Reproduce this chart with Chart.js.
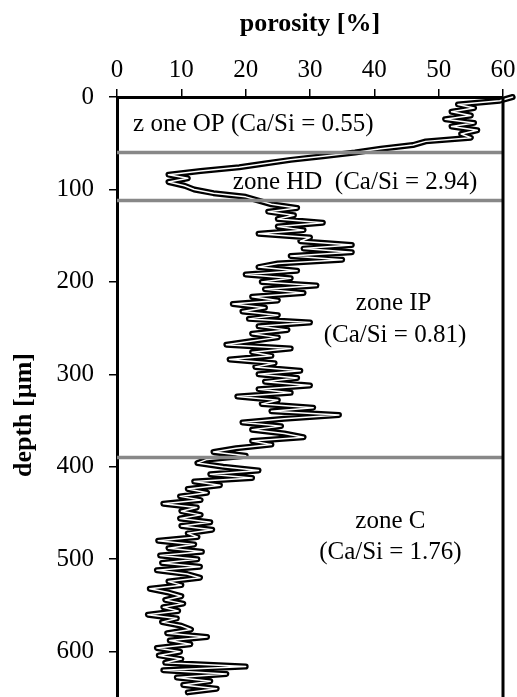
<!DOCTYPE html>
<html>
<head>
<meta charset="utf-8">
<script src="https://cdn.jsdelivr.net/npm/chart.js@4.4.1/dist/chart.umd.min.js"></script>
<style>
  html, body { margin: 0; padding: 0; background: #fff; }
</style>
</head>
<body>
<canvas id="chartPorosidade" width="517" height="697"></canvas>
<script>
// depth [um] and porosity [%] read from the profile
const depths = [0, 4, 8, 12, 16, 20, 24, 28, 32, 36, 40, 44, 48, 52, 56, 60, 64, 68, 72, 76,
    80, 84, 88, 92, 96, 100, 104, 108, 112, 116, 120, 124, 128, 132, 136, 140, 144, 148, 152, 156,
    160, 164, 168, 172, 176, 180, 184, 188, 192, 196, 200, 204, 208, 212, 216, 220, 224, 228, 232, 236,
    240, 244, 248, 252, 256, 260, 264, 268, 272, 276, 280, 284, 288, 292, 296, 300, 304, 308, 312, 316,
    320, 324, 328, 332, 336, 340, 344, 348, 352, 356, 360, 364, 368, 372, 376, 380, 384, 388, 392, 396,
    400, 404, 408, 412, 416, 420, 424, 428, 432, 436, 440, 444, 448, 452, 456, 460, 464, 468, 472, 476,
    480, 484, 488, 492, 496, 500, 504, 508, 512, 516, 520, 524, 528, 532, 536, 540, 544, 548, 552, 556,
    560, 564, 568, 572, 576, 580, 584, 588, 592, 596, 600, 604, 608, 612, 616, 620, 624, 628, 632, 636,
    640, 644];
const porosity = [61.5, 59.5, 53, 55.5, 52, 55, 51, 55.5, 52, 56, 53.5, 55, 48, 46, 41, 37, 32, 27, 23, 19,
    13, 8, 11, 8, 10.5, 12, 15, 20, 22, 24, 28, 23.5, 27.5, 25, 32, 25, 29, 22, 30, 28.5,
    36.5, 29, 36.5, 27, 35, 25, 22, 28, 20, 27, 22.5, 31, 23, 29, 21, 25, 18, 23, 19.5, 25,
    20.5, 30, 22, 26.5, 21, 25, 21, 17, 27, 21, 24, 17.5, 24.5, 21.5, 28.5, 22, 28, 23, 30, 22,
    27, 18.7, 25, 22.5, 30.5, 24, 34.5, 26, 19.5, 25.5, 21, 26, 29, 21, 24, 18.5, 15, 20, 14, 12.5,
    16.5, 22, 14.5, 21, 12, 16, 11, 14, 9.8, 13, 7.2, 12.4, 10, 13, 9.8, 14.5, 10, 14.8, 11, 12.5,
    6.4, 12, 8, 13.2, 6.7, 12.5, 7, 12.9, 6.2, 10.9, 12.9, 8, 10, 5.1, 8, 10, 7.5, 10.3, 7.2, 9.5,
    4.8, 9.3, 7, 10, 11.5, 7.8, 14, 8.2, 11.4, 6.2, 9.8, 6.5, 10, 7.5, 20, 7.2, 17, 9.3, 14.5, 10.3,
    15.5, 11];

const zoneBounds = [60, 112, 390];
const zoneTexts = ['z one OP (Ca/Si = 0.55)', 'zone HD  (Ca/Si = 2.94)', 'zone IP', '(Ca/Si = 0.81)', 'zone C', '(Ca/Si = 1.76)'];
const zoneTextX = [2.5, 18, 43, 43.2, 42.5, 42.5];
const zoneTextY = [30, 92, 223, 258, 459, 493];
const zoneTextAlign = ['left', 'left', 'center', 'center', 'center', 'center'];

const xTicks = [0, 10, 20, 30, 40, 50, 60];
const yTicks = [0, 100, 200, 300, 400, 500, 600];

const serif = '"Liberation Serif", "Times New Roman", serif';

const perfil = depths.map((d, i) => ({ x: porosity[i], y: d }));

const zoneLines = zoneBounds.map(b => ({
    data: [{ x: 0, y: b }, { x: 60, y: b }],
    showLine: true,
    borderColor: '#888888',
    borderWidth: 3.5,
    pointRadius: 0,
    order: -1
}));

const zoneLabels = {
    id: 'zoneLabels',
    afterDatasetsDraw(chart) {
        const { ctx, chartArea, scales } = chart;
        ctx.save();
        // right frame line
        ctx.strokeStyle = '#000';
        ctx.lineWidth = 3;
        ctx.beginPath();
        ctx.moveTo(chartArea.right, chartArea.top);
        ctx.lineTo(chartArea.right, chartArea.bottom);
        ctx.stroke();

        ctx.font = '25px ' + serif;
        ctx.fillStyle = '#000';
        ctx.textBaseline = 'middle';
        for (let i = 0; i < zoneTexts.length; i++) {
            ctx.textAlign = zoneTextAlign[i];
            ctx.fillText(zoneTexts[i], scales.x.getPixelForValue(zoneTextX[i]), scales.y.getPixelForValue(zoneTextY[i]));
        }

        // y axis title
        ctx.translate(24, 415);
        ctx.rotate(-Math.PI / 2);
        ctx.textAlign = 'center';
        ctx.font = 'bold 26px ' + serif;
        ctx.fillText('depth [µm]', 0, 0);
        ctx.restore();
    }
};

const canvas = document.getElementById('chartPorosidade');
new Chart(canvas, {
    type: 'scatter',
    data: {
        datasets: [
            {
                data: perfil,
                showLine: true,
                borderColor: '#ffffff',
                borderWidth: 1.5,
                borderJoinStyle: 'round',
                borderCapStyle: 'round',
                pointRadius: 0,
                tension: 0,
                clip: false,
                order: 0
            },
            {
                data: perfil,
                showLine: true,
                borderColor: '#000000',
                borderWidth: 6,
                borderJoinStyle: 'round',
                borderCapStyle: 'round',
                pointRadius: 0,
                tension: 0,
                clip: false,
                order: 1
            },
            ...zoneLines
        ]
    },
    options: {
        responsive: false,
        animation: false,
        devicePixelRatio: 1,
        layout: { padding: { left: 0, right: 14, top: 0, bottom: 0 } },
        plugins: {
            legend: { display: false },
            tooltip: { enabled: false }
        },
        scales: {
            x: {
                type: 'linear',
                position: 'top',
                min: 0,
                max: 60,
                afterBuildTicks: scale => { scale.ticks = xTicks.map(v => ({ value: v })); },
                afterFit: scale => {
                    scale.height = 97;
                    scale.paddingLeft = 0;
                    scale.paddingRight = 0;
                },
                grid: { drawOnChartArea: false, drawTicks: true, tickLength: 8, color: '#000', lineWidth: 1.5 },
                border: { display: true, color: '#000', width: 3 },
                ticks: { color: '#000', padding: 4, maxRotation: 0, font: { family: serif, size: 25 } },
                title: {
                    display: true,
                    text: 'porosity [%]',
                    color: '#000',
                    padding: { top: 9, bottom: 0 },
                    font: { family: serif, size: 26, weight: 'bold' }
                }
            },
            y: {
                type: 'linear',
                position: 'left',
                reverse: true,
                min: 0,
                max: 649,
                afterBuildTicks: scale => { scale.ticks = yTicks.map(v => ({ value: v })); },
                afterFit: scale => {
                    scale.width = 117;
                    scale.paddingTop = 0;
                    scale.paddingBottom = 0;
                },
                grid: { drawOnChartArea: false, drawTicks: true, tickLength: 8, color: '#000', lineWidth: 1.5 },
                border: { display: true, color: '#000', width: 3 },
                ticks: { color: '#000', padding: 15, font: { family: serif, size: 25 } },
                title: { display: false }
            }
        }
    },
    plugins: [zoneLabels]
});
</script>
</body>
</html>
